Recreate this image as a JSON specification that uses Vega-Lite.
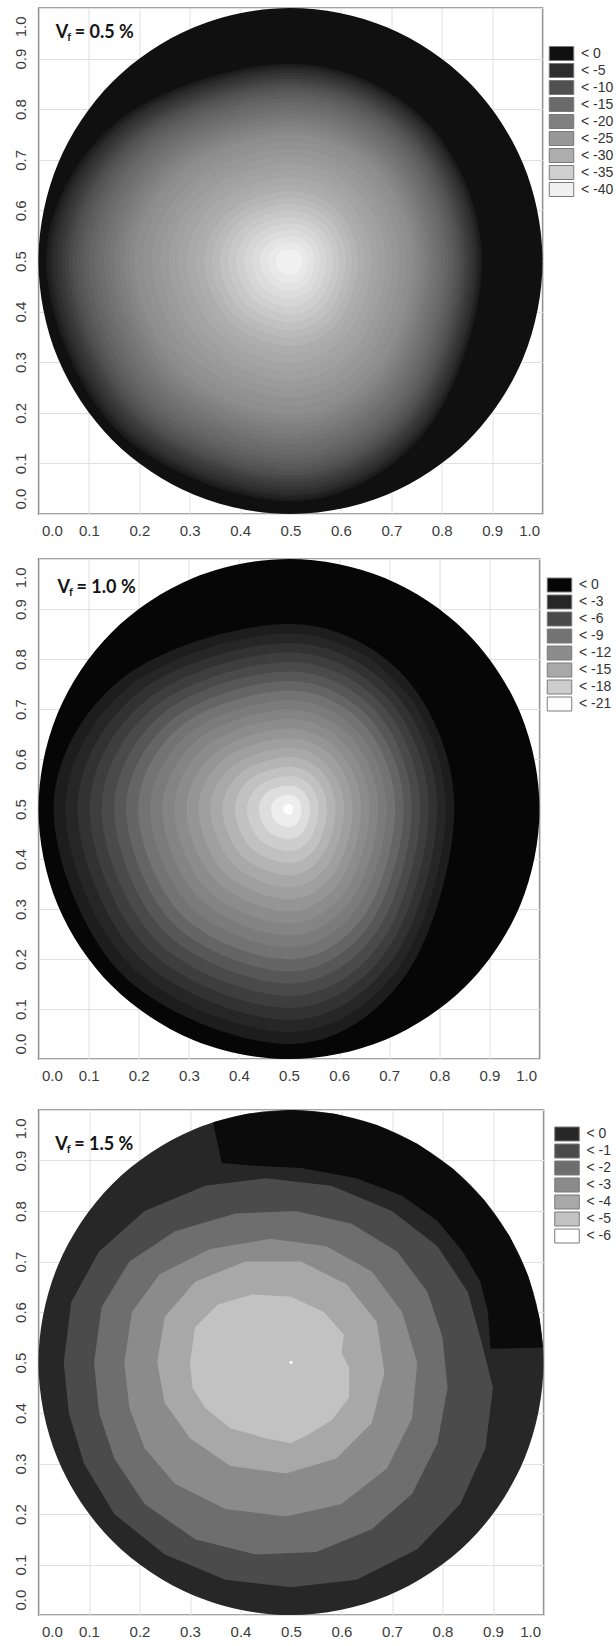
{
"$schema": "https://vega.github.io/schema/vega-lite/v6.json",
"background": "white",
"padding": {"left": 12.5, "top": 7, "right": 0, "bottom": 0},
"spacing": 19,
"config": {
 "view": {"stroke": "#474747", "strokeWidth": 1.4},
 "axis": {"grid": true, "gridColor": "#e0e0e0", "gridWidth": 1, "ticks": false, "tickSize": 0, "domain": false, "labelFont": "Liberation Sans", "labelFontSize": 15, "labelColor": "#3c3c3c"},
 "axisX": {"labelPadding": 9, "labelFlush": true, "labelFlushOffset": -3},
 "axisY": {"labelAngle": 270, "labelPadding": 10, "labelFlush": false},
 "legend": {"labelFont": "Liberation Sans", "labelFontSize": 14, "labelColor": "#333333", "symbolType": "M-1.75,-1H1.75V1H-1.75Z", "symbolSize": 196, "symbolStrokeColor": "#7a7a7a", "symbolStrokeWidth": 1, "rowPadding": -4.55, "labelOffset": 12}
},
"datasets": {
 "circ": [{"v":0,"x":1,"y":0.5},{"v":0,"x":0.9619,"y":0.6913},{"v":0,"x":0.8536,"y":0.8536},{"v":0,"x":0.6913,"y":0.9619},{"v":0,"x":0.5,"y":1},{"v":0,"x":0.3087,"y":0.9619},{"v":0,"x":0.1464,"y":0.8536},{"v":0,"x":0.0381,"y":0.6913},{"v":0,"x":0,"y":0.5},{"v":0,"x":0.0381,"y":0.3087},{"v":0,"x":0.1464,"y":0.1464},{"v":0,"x":0.3087,"y":0.0381},{"v":0,"x":0.5,"y":0},{"v":0,"x":0.6913,"y":0.0381},{"v":0,"x":0.8536,"y":0.1464},{"v":0,"x":0.9619,"y":0.3087}],
 "p1": [
 {"v":-2,"x":0.88,"y":0.5},{"v":-2,"x":0.769,"y":0.776},{"v":-2,"x":0.5,"y":0.89},{"v":-2,"x":0.157,"y":0.776},{"v":-2,"x":0.015,"y":0.5},{"v":-2,"x":0.157,"y":0.164},{"v":-2,"x":0.5,"y":0.025},{"v":-2,"x":0.769,"y":0.164},
 {"v":-3,"x":0.876,"y":0.5},{"v":-3,"x":0.766,"y":0.773},{"v":-3,"x":0.5,"y":0.886},{"v":-3,"x":0.161,"y":0.773},{"v":-3,"x":0.02,"y":0.5},{"v":-3,"x":0.161,"y":0.168},{"v":-3,"x":0.5,"y":0.03},{"v":-3,"x":0.766,"y":0.168},
 {"v":-4,"x":0.872,"y":0.5},{"v":-4,"x":0.763,"y":0.77},{"v":-4,"x":0.5,"y":0.882},{"v":-4,"x":0.164,"y":0.77},{"v":-4,"x":0.025,"y":0.5},{"v":-4,"x":0.164,"y":0.171},{"v":-4,"x":0.5,"y":0.035},{"v":-4,"x":0.763,"y":0.171},
 {"v":-5,"x":0.869,"y":0.5},{"v":-5,"x":0.761,"y":0.768},{"v":-5,"x":0.5,"y":0.878},{"v":-5,"x":0.167,"y":0.768},{"v":-5,"x":0.03,"y":0.5},{"v":-5,"x":0.167,"y":0.174},{"v":-5,"x":0.5,"y":0.039},{"v":-5,"x":0.761,"y":0.174},
 {"v":-6,"x":0.863,"y":0.5},{"v":-6,"x":0.756,"y":0.763},{"v":-6,"x":0.5,"y":0.872},{"v":-6,"x":0.173,"y":0.763},{"v":-6,"x":0.037,"y":0.5},{"v":-6,"x":0.173,"y":0.179},{"v":-6,"x":0.5,"y":0.047},{"v":-6,"x":0.756,"y":0.179},
 {"v":-7,"x":0.857,"y":0.5},{"v":-7,"x":0.752,"y":0.759},{"v":-7,"x":0.5,"y":0.866},{"v":-7,"x":0.178,"y":0.759},{"v":-7,"x":0.045,"y":0.5},{"v":-7,"x":0.178,"y":0.185},{"v":-7,"x":0.5,"y":0.054},{"v":-7,"x":0.752,"y":0.185},
 {"v":-8,"x":0.851,"y":0.5},{"v":-8,"x":0.748,"y":0.755},{"v":-8,"x":0.5,"y":0.86},{"v":-8,"x":0.184,"y":0.755},{"v":-8,"x":0.052,"y":0.5},{"v":-8,"x":0.184,"y":0.19},{"v":-8,"x":0.5,"y":0.062},{"v":-8,"x":0.748,"y":0.19},
 {"v":-9,"x":0.845,"y":0.5},{"v":-9,"x":0.744,"y":0.75},{"v":-9,"x":0.5,"y":0.854},{"v":-9,"x":0.189,"y":0.75},{"v":-9,"x":0.06,"y":0.5},{"v":-9,"x":0.189,"y":0.195},{"v":-9,"x":0.5,"y":0.069},{"v":-9,"x":0.744,"y":0.195},
 {"v":-10,"x":0.839,"y":0.5},{"v":-10,"x":0.74,"y":0.746},{"v":-10,"x":0.5,"y":0.848},{"v":-10,"x":0.194,"y":0.746},{"v":-10,"x":0.067,"y":0.5},{"v":-10,"x":0.194,"y":0.2},{"v":-10,"x":0.5,"y":0.076},{"v":-10,"x":0.74,"y":0.2},
 {"v":-11,"x":0.833,"y":0.5},{"v":-11,"x":0.736,"y":0.742},{"v":-11,"x":0.5,"y":0.842},{"v":-11,"x":0.2,"y":0.742},{"v":-11,"x":0.075,"y":0.5},{"v":-11,"x":0.2,"y":0.206},{"v":-11,"x":0.5,"y":0.084},{"v":-11,"x":0.736,"y":0.206},
 {"v":-12,"x":0.827,"y":0.5},{"v":-12,"x":0.731,"y":0.737},{"v":-12,"x":0.5,"y":0.836},{"v":-12,"x":0.205,"y":0.737},{"v":-12,"x":0.083,"y":0.5},{"v":-12,"x":0.205,"y":0.211},{"v":-12,"x":0.5,"y":0.091},{"v":-12,"x":0.731,"y":0.211},
 {"v":-13,"x":0.821,"y":0.5},{"v":-13,"x":0.727,"y":0.733},{"v":-13,"x":0.5,"y":0.83},{"v":-13,"x":0.21,"y":0.733},{"v":-13,"x":0.09,"y":0.5},{"v":-13,"x":0.21,"y":0.216},{"v":-13,"x":0.5,"y":0.099},{"v":-13,"x":0.727,"y":0.216},
 {"v":-14,"x":0.813,"y":0.5},{"v":-14,"x":0.722,"y":0.727},{"v":-14,"x":0.5,"y":0.822},{"v":-14,"x":0.217,"y":0.727},{"v":-14,"x":0.1,"y":0.5},{"v":-14,"x":0.217,"y":0.223},{"v":-14,"x":0.5,"y":0.108},{"v":-14,"x":0.722,"y":0.223},
 {"v":-15,"x":0.806,"y":0.5},{"v":-15,"x":0.716,"y":0.722},{"v":-15,"x":0.5,"y":0.814},{"v":-15,"x":0.224,"y":0.722},{"v":-15,"x":0.11,"y":0.5},{"v":-15,"x":0.224,"y":0.23},{"v":-15,"x":0.5,"y":0.118},{"v":-15,"x":0.716,"y":0.23},
 {"v":-16,"x":0.798,"y":0.5},{"v":-16,"x":0.711,"y":0.716},{"v":-16,"x":0.5,"y":0.806},{"v":-16,"x":0.231,"y":0.716},{"v":-16,"x":0.12,"y":0.5},{"v":-16,"x":0.231,"y":0.237},{"v":-16,"x":0.5,"y":0.128},{"v":-16,"x":0.711,"y":0.237},
 {"v":-17,"x":0.79,"y":0.5},{"v":-17,"x":0.705,"y":0.71},{"v":-17,"x":0.5,"y":0.798},{"v":-17,"x":0.238,"y":0.71},{"v":-17,"x":0.13,"y":0.5},{"v":-17,"x":0.238,"y":0.244},{"v":-17,"x":0.5,"y":0.138},{"v":-17,"x":0.705,"y":0.244},
 {"v":-18,"x":0.782,"y":0.5},{"v":-18,"x":0.7,"y":0.705},{"v":-18,"x":0.5,"y":0.79},{"v":-18,"x":0.245,"y":0.705},{"v":-18,"x":0.14,"y":0.5},{"v":-18,"x":0.245,"y":0.251},{"v":-18,"x":0.5,"y":0.147},{"v":-18,"x":0.7,"y":0.251},
 {"v":-19,"x":0.774,"y":0.5},{"v":-19,"x":0.694,"y":0.699},{"v":-19,"x":0.5,"y":0.782},{"v":-19,"x":0.252,"y":0.699},{"v":-19,"x":0.15,"y":0.5},{"v":-19,"x":0.252,"y":0.258},{"v":-19,"x":0.5,"y":0.157},{"v":-19,"x":0.694,"y":0.258},
 {"v":-20,"x":0.767,"y":0.5},{"v":-20,"x":0.689,"y":0.694},{"v":-20,"x":0.5,"y":0.774},{"v":-20,"x":0.26,"y":0.694},{"v":-20,"x":0.16,"y":0.5},{"v":-20,"x":0.26,"y":0.264},{"v":-20,"x":0.5,"y":0.167},{"v":-20,"x":0.689,"y":0.264},
 {"v":-21,"x":0.759,"y":0.5},{"v":-21,"x":0.683,"y":0.688},{"v":-21,"x":0.5,"y":0.766},{"v":-21,"x":0.267,"y":0.688},{"v":-21,"x":0.17,"y":0.5},{"v":-21,"x":0.267,"y":0.271},{"v":-21,"x":0.5,"y":0.177},{"v":-21,"x":0.683,"y":0.271},
 {"v":-22,"x":0.751,"y":0.5},{"v":-22,"x":0.678,"y":0.682},{"v":-22,"x":0.5,"y":0.758},{"v":-22,"x":0.274,"y":0.682},{"v":-22,"x":0.18,"y":0.5},{"v":-22,"x":0.274,"y":0.278},{"v":-22,"x":0.5,"y":0.186},{"v":-22,"x":0.678,"y":0.278},
 {"v":-23,"x":0.743,"y":0.5},{"v":-23,"x":0.672,"y":0.677},{"v":-23,"x":0.5,"y":0.75},{"v":-23,"x":0.281,"y":0.677},{"v":-23,"x":0.19,"y":0.5},{"v":-23,"x":0.281,"y":0.285},{"v":-23,"x":0.5,"y":0.196},{"v":-23,"x":0.672,"y":0.285},
 {"v":-24,"x":0.73,"y":0.5},{"v":-24,"x":0.662,"y":0.667},{"v":-24,"x":0.5,"y":0.736},{"v":-24,"x":0.293,"y":0.667},{"v":-24,"x":0.207,"y":0.5},{"v":-24,"x":0.293,"y":0.297},{"v":-24,"x":0.5,"y":0.213},{"v":-24,"x":0.662,"y":0.297},
 {"v":-25,"x":0.716,"y":0.5},{"v":-25,"x":0.653,"y":0.657},{"v":-25,"x":0.5,"y":0.722},{"v":-25,"x":0.305,"y":0.657},{"v":-25,"x":0.225,"y":0.5},{"v":-25,"x":0.305,"y":0.309},{"v":-25,"x":0.5,"y":0.23},{"v":-25,"x":0.653,"y":0.309},
 {"v":-26,"x":0.702,"y":0.5},{"v":-26,"x":0.643,"y":0.647},{"v":-26,"x":0.5,"y":0.708},{"v":-26,"x":0.318,"y":0.647},{"v":-26,"x":0.242,"y":0.5},{"v":-26,"x":0.318,"y":0.321},{"v":-26,"x":0.5,"y":0.247},{"v":-26,"x":0.643,"y":0.321},
 {"v":-27,"x":0.689,"y":0.5},{"v":-27,"x":0.633,"y":0.637},{"v":-27,"x":0.5,"y":0.693},{"v":-27,"x":0.33,"y":0.637},{"v":-27,"x":0.259,"y":0.5},{"v":-27,"x":0.33,"y":0.333},{"v":-27,"x":0.5,"y":0.264},{"v":-27,"x":0.633,"y":0.333},
 {"v":-28,"x":0.675,"y":0.5},{"v":-28,"x":0.624,"y":0.627},{"v":-28,"x":0.5,"y":0.679},{"v":-28,"x":0.342,"y":0.627},{"v":-28,"x":0.277,"y":0.5},{"v":-28,"x":0.342,"y":0.346},{"v":-28,"x":0.5,"y":0.282},{"v":-28,"x":0.624,"y":0.346},
 {"v":-29,"x":0.661,"y":0.5},{"v":-29,"x":0.614,"y":0.617},{"v":-29,"x":0.5,"y":0.665},{"v":-29,"x":0.355,"y":0.617},{"v":-29,"x":0.294,"y":0.5},{"v":-29,"x":0.355,"y":0.358},{"v":-29,"x":0.5,"y":0.299},{"v":-29,"x":0.614,"y":0.358},
 {"v":-30,"x":0.647,"y":0.5},{"v":-30,"x":0.604,"y":0.607},{"v":-30,"x":0.5,"y":0.651},{"v":-30,"x":0.367,"y":0.607},{"v":-30,"x":0.312,"y":0.5},{"v":-30,"x":0.367,"y":0.37},{"v":-30,"x":0.5,"y":0.316},{"v":-30,"x":0.604,"y":0.37},
 {"v":-31,"x":0.634,"y":0.5},{"v":-31,"x":0.595,"y":0.598},{"v":-31,"x":0.5,"y":0.638},{"v":-31,"x":0.379,"y":0.598},{"v":-31,"x":0.329,"y":0.5},{"v":-31,"x":0.379,"y":0.381},{"v":-31,"x":0.5,"y":0.332},{"v":-31,"x":0.595,"y":0.381},
 {"v":-32,"x":0.622,"y":0.5},{"v":-32,"x":0.586,"y":0.589},{"v":-32,"x":0.5,"y":0.625},{"v":-32,"x":0.39,"y":0.589},{"v":-32,"x":0.344,"y":0.5},{"v":-32,"x":0.39,"y":0.392},{"v":-32,"x":0.5,"y":0.348},{"v":-32,"x":0.586,"y":0.392},
 {"v":-33,"x":0.61,"y":0.5},{"v":-33,"x":0.578,"y":0.58},{"v":-33,"x":0.5,"y":0.613},{"v":-33,"x":0.401,"y":0.58},{"v":-33,"x":0.36,"y":0.5},{"v":-33,"x":0.401,"y":0.403},{"v":-33,"x":0.5,"y":0.363},{"v":-33,"x":0.578,"y":0.403},
 {"v":-34,"x":0.597,"y":0.5},{"v":-34,"x":0.569,"y":0.571},{"v":-34,"x":0.5,"y":0.6},{"v":-34,"x":0.412,"y":0.571},{"v":-34,"x":0.376,"y":0.5},{"v":-34,"x":0.412,"y":0.414},{"v":-34,"x":0.5,"y":0.379},{"v":-34,"x":0.569,"y":0.414},
 {"v":-35,"x":0.585,"y":0.5},{"v":-35,"x":0.56,"y":0.562},{"v":-35,"x":0.5,"y":0.587},{"v":-35,"x":0.424,"y":0.562},{"v":-35,"x":0.392,"y":0.5},{"v":-35,"x":0.424,"y":0.425},{"v":-35,"x":0.5,"y":0.394},{"v":-35,"x":0.56,"y":0.425},
 {"v":-36,"x":0.572,"y":0.5},{"v":-36,"x":0.551,"y":0.553},{"v":-36,"x":0.5,"y":0.574},{"v":-36,"x":0.435,"y":0.553},{"v":-36,"x":0.408,"y":0.5},{"v":-36,"x":0.435,"y":0.436},{"v":-36,"x":0.5,"y":0.41},{"v":-36,"x":0.551,"y":0.436},
 {"v":-37,"x":0.56,"y":0.5},{"v":-37,"x":0.542,"y":0.544},{"v":-37,"x":0.5,"y":0.562},{"v":-37,"x":0.446,"y":0.544},{"v":-37,"x":0.423,"y":0.5},{"v":-37,"x":0.446,"y":0.447},{"v":-37,"x":0.5,"y":0.425},{"v":-37,"x":0.542,"y":0.447},
 {"v":-38,"x":0.548,"y":0.5},{"v":-38,"x":0.534,"y":0.535},{"v":-38,"x":0.5,"y":0.549},{"v":-38,"x":0.457,"y":0.535},{"v":-38,"x":0.439,"y":0.5},{"v":-38,"x":0.457,"y":0.458},{"v":-38,"x":0.5,"y":0.441},{"v":-38,"x":0.534,"y":0.458},
 {"v":-39,"x":0.535,"y":0.5},{"v":-39,"x":0.525,"y":0.526},{"v":-39,"x":0.5,"y":0.536},{"v":-39,"x":0.468,"y":0.526},{"v":-39,"x":0.455,"y":0.5},{"v":-39,"x":0.468,"y":0.469},{"v":-39,"x":0.5,"y":0.456},{"v":-39,"x":0.525,"y":0.469},
 {"v":-40,"x":0.523,"y":0.5},{"v":-40,"x":0.516,"y":0.517},{"v":-40,"x":0.5,"y":0.523},{"v":-40,"x":0.479,"y":0.517},{"v":-40,"x":0.471,"y":0.5},{"v":-40,"x":0.479,"y":0.48},{"v":-40,"x":0.5,"y":0.472},{"v":-40,"x":0.516,"y":0.48}
 ],
 "p2": [
 {"v":-2,"x":0.83,"y":0.5},{"v":-2,"x":0.733,"y":0.762},{"v":-2,"x":0.5,"y":0.87},{"v":-2,"x":0.168,"y":0.762},{"v":-2,"x":0.03,"y":0.5},{"v":-2,"x":0.168,"y":0.168},{"v":-2,"x":0.5,"y":0.03},{"v":-2,"x":0.733,"y":0.168},
 {"v":-3,"x":0.813,"y":0.5},{"v":-3,"x":0.721,"y":0.748},{"v":-3,"x":0.5,"y":0.851},{"v":-3,"x":0.185,"y":0.748},{"v":-3,"x":0.054,"y":0.5},{"v":-3,"x":0.185,"y":0.185},{"v":-3,"x":0.5,"y":0.054},{"v":-3,"x":0.721,"y":0.185},
 {"v":-4,"x":0.796,"y":0.5},{"v":-4,"x":0.709,"y":0.735},{"v":-4,"x":0.5,"y":0.832},{"v":-4,"x":0.202,"y":0.735},{"v":-4,"x":0.078,"y":0.5},{"v":-4,"x":0.202,"y":0.202},{"v":-4,"x":0.5,"y":0.078},{"v":-4,"x":0.709,"y":0.202},
 {"v":-5,"x":0.779,"y":0.5},{"v":-5,"x":0.697,"y":0.721},{"v":-5,"x":0.5,"y":0.813},{"v":-5,"x":0.219,"y":0.721},{"v":-5,"x":0.102,"y":0.5},{"v":-5,"x":0.219,"y":0.219},{"v":-5,"x":0.5,"y":0.102},{"v":-5,"x":0.697,"y":0.219},
 {"v":-6,"x":0.762,"y":0.5},{"v":-6,"x":0.686,"y":0.708},{"v":-6,"x":0.5,"y":0.794},{"v":-6,"x":0.236,"y":0.708},{"v":-6,"x":0.126,"y":0.5},{"v":-6,"x":0.236,"y":0.236},{"v":-6,"x":0.5,"y":0.126},{"v":-6,"x":0.686,"y":0.236},
 {"v":-7,"x":0.745,"y":0.5},{"v":-7,"x":0.674,"y":0.695},{"v":-7,"x":0.5,"y":0.775},{"v":-7,"x":0.253,"y":0.695},{"v":-7,"x":0.151,"y":0.5},{"v":-7,"x":0.253,"y":0.253},{"v":-7,"x":0.5,"y":0.151},{"v":-7,"x":0.674,"y":0.253},
 {"v":-8,"x":0.729,"y":0.5},{"v":-8,"x":0.662,"y":0.681},{"v":-8,"x":0.5,"y":0.756},{"v":-8,"x":0.27,"y":0.681},{"v":-8,"x":0.175,"y":0.5},{"v":-8,"x":0.27,"y":0.27},{"v":-8,"x":0.5,"y":0.175},{"v":-8,"x":0.662,"y":0.27},
 {"v":-9,"x":0.712,"y":0.5},{"v":-9,"x":0.65,"y":0.668},{"v":-9,"x":0.5,"y":0.737},{"v":-9,"x":0.287,"y":0.668},{"v":-9,"x":0.199,"y":0.5},{"v":-9,"x":0.287,"y":0.287},{"v":-9,"x":0.5,"y":0.199},{"v":-9,"x":0.65,"y":0.287},
 {"v":-10,"x":0.695,"y":0.5},{"v":-10,"x":0.638,"y":0.654},{"v":-10,"x":0.5,"y":0.718},{"v":-10,"x":0.304,"y":0.654},{"v":-10,"x":0.223,"y":0.5},{"v":-10,"x":0.304,"y":0.304},{"v":-10,"x":0.5,"y":0.223},{"v":-10,"x":0.638,"y":0.304},
 {"v":-11,"x":0.678,"y":0.5},{"v":-11,"x":0.626,"y":0.641},{"v":-11,"x":0.5,"y":0.699},{"v":-11,"x":0.321,"y":0.641},{"v":-11,"x":0.247,"y":0.5},{"v":-11,"x":0.321,"y":0.321},{"v":-11,"x":0.5,"y":0.247},{"v":-11,"x":0.626,"y":0.321},
 {"v":-12,"x":0.661,"y":0.5},{"v":-12,"x":0.614,"y":0.628},{"v":-12,"x":0.5,"y":0.68},{"v":-12,"x":0.338,"y":0.628},{"v":-12,"x":0.271,"y":0.5},{"v":-12,"x":0.338,"y":0.338},{"v":-12,"x":0.5,"y":0.271},{"v":-12,"x":0.614,"y":0.338},
 {"v":-13,"x":0.644,"y":0.5},{"v":-13,"x":0.602,"y":0.614},{"v":-13,"x":0.5,"y":0.661},{"v":-13,"x":0.355,"y":0.614},{"v":-13,"x":0.295,"y":0.5},{"v":-13,"x":0.355,"y":0.355},{"v":-13,"x":0.5,"y":0.295},{"v":-13,"x":0.602,"y":0.355},
 {"v":-14,"x":0.627,"y":0.5},{"v":-14,"x":0.59,"y":0.601},{"v":-14,"x":0.5,"y":0.642},{"v":-14,"x":0.372,"y":0.601},{"v":-14,"x":0.319,"y":0.5},{"v":-14,"x":0.372,"y":0.372},{"v":-14,"x":0.5,"y":0.319},{"v":-14,"x":0.59,"y":0.372},
 {"v":-15,"x":0.61,"y":0.5},{"v":-15,"x":0.578,"y":0.587},{"v":-15,"x":0.5,"y":0.623},{"v":-15,"x":0.389,"y":0.587},{"v":-15,"x":0.343,"y":0.5},{"v":-15,"x":0.389,"y":0.389},{"v":-15,"x":0.5,"y":0.343},{"v":-15,"x":0.578,"y":0.389},
 {"v":-16,"x":0.593,"y":0.5},{"v":-16,"x":0.566,"y":0.574},{"v":-16,"x":0.5,"y":0.604},{"v":-16,"x":0.406,"y":0.574},{"v":-16,"x":0.367,"y":0.5},{"v":-16,"x":0.406,"y":0.406},{"v":-16,"x":0.5,"y":0.367},{"v":-16,"x":0.566,"y":0.406},
 {"v":-17,"x":0.576,"y":0.5},{"v":-17,"x":0.554,"y":0.56},{"v":-17,"x":0.5,"y":0.585},{"v":-17,"x":0.423,"y":0.56},{"v":-17,"x":0.392,"y":0.5},{"v":-17,"x":0.423,"y":0.423},{"v":-17,"x":0.5,"y":0.392},{"v":-17,"x":0.554,"y":0.423},
 {"v":-18,"x":0.559,"y":0.5},{"v":-18,"x":0.542,"y":0.547},{"v":-18,"x":0.5,"y":0.566},{"v":-18,"x":0.44,"y":0.547},{"v":-18,"x":0.416,"y":0.5},{"v":-18,"x":0.44,"y":0.44},{"v":-18,"x":0.5,"y":0.416},{"v":-18,"x":0.542,"y":0.44},
 {"v":-19,"x":0.542,"y":0.5},{"v":-19,"x":0.53,"y":0.534},{"v":-19,"x":0.5,"y":0.547},{"v":-19,"x":0.457,"y":0.534},{"v":-19,"x":0.44,"y":0.5},{"v":-19,"x":0.457,"y":0.457},{"v":-19,"x":0.5,"y":0.44},{"v":-19,"x":0.53,"y":0.457},
 {"v":-20,"x":0.525,"y":0.5},{"v":-20,"x":0.518,"y":0.52},{"v":-20,"x":0.5,"y":0.529},{"v":-20,"x":0.474,"y":0.52},{"v":-20,"x":0.464,"y":0.5},{"v":-20,"x":0.474,"y":0.474},{"v":-20,"x":0.5,"y":0.464},{"v":-20,"x":0.518,"y":0.474},
 {"v":-21,"x":0.508,"y":0.5},{"v":-21,"x":0.506,"y":0.507},{"v":-21,"x":0.5,"y":0.51},{"v":-21,"x":0.492,"y":0.507},{"v":-21,"x":0.488,"y":0.5},{"v":-21,"x":0.492,"y":0.492},{"v":-21,"x":0.5,"y":0.488},{"v":-21,"x":0.506,"y":0.492}
 ],
 "p3": [
 {"v":1,"x":0.3455,"y":0.9755},{"v":1,"x":0.4132,"y":0.9924},{"v":1,"x":0.5,"y":1},{"v":1,"x":0.5868,"y":0.9924},{"v":1,"x":0.671,"y":0.9698},{"v":1,"x":0.75,"y":0.933},{"v":1,"x":0.8214,"y":0.883},{"v":1,"x":0.883,"y":0.8214},{"v":1,"x":0.933,"y":0.75},{"v":1,"x":0.9698,"y":0.671},{"v":1,"x":0.9924,"y":0.5868},{"v":1,"x":0.9991,"y":0.5297},{"v":1,"x":0.895,"y":0.527},{"v":1,"x":0.89,"y":0.6},{"v":1,"x":0.875,"y":0.66},{"v":1,"x":0.84,"y":0.72},{"v":1,"x":0.79,"y":0.78},{"v":1,"x":0.72,"y":0.83},{"v":1,"x":0.63,"y":0.865},{"v":1,"x":0.52,"y":0.885},{"v":1,"x":0.42,"y":0.89},{"v":1,"x":0.363,"y":0.895},
 {"v":-1,"x":0.05,"y":0.5},{"v":-1,"x":0.065,"y":0.62},{"v":-1,"x":0.12,"y":0.72},{"v":-1,"x":0.21,"y":0.8},{"v":-1,"x":0.33,"y":0.85},{"v":-1,"x":0.45,"y":0.865},{"v":-1,"x":0.58,"y":0.85},{"v":-1,"x":0.7,"y":0.8},{"v":-1,"x":0.79,"y":0.73},{"v":-1,"x":0.85,"y":0.64},{"v":-1,"x":0.88,"y":0.53},{"v":-1,"x":0.9,"y":0.45},{"v":-1,"x":0.885,"y":0.33},{"v":-1,"x":0.835,"y":0.22},{"v":-1,"x":0.75,"y":0.13},{"v":-1,"x":0.63,"y":0.07},{"v":-1,"x":0.5,"y":0.055},{"v":-1,"x":0.37,"y":0.07},{"v":-1,"x":0.25,"y":0.12},{"v":-1,"x":0.15,"y":0.2},{"v":-1,"x":0.09,"y":0.3},{"v":-1,"x":0.06,"y":0.4},
 {"v":-2,"x":0.11,"y":0.5},{"v":-2,"x":0.125,"y":0.61},{"v":-2,"x":0.18,"y":0.7},{"v":-2,"x":0.27,"y":0.76},{"v":-2,"x":0.39,"y":0.795},{"v":-2,"x":0.51,"y":0.8},{"v":-2,"x":0.62,"y":0.775},{"v":-2,"x":0.71,"y":0.72},{"v":-2,"x":0.77,"y":0.64},{"v":-2,"x":0.8,"y":0.55},{"v":-2,"x":0.81,"y":0.45},{"v":-2,"x":0.79,"y":0.34},{"v":-2,"x":0.74,"y":0.24},{"v":-2,"x":0.66,"y":0.17},{"v":-2,"x":0.55,"y":0.125},{"v":-2,"x":0.43,"y":0.12},{"v":-2,"x":0.31,"y":0.15},{"v":-2,"x":0.21,"y":0.22},{"v":-2,"x":0.15,"y":0.31},{"v":-2,"x":0.12,"y":0.4},
 {"v":-3,"x":0.17,"y":0.5},{"v":-3,"x":0.185,"y":0.6},{"v":-3,"x":0.24,"y":0.675},{"v":-3,"x":0.34,"y":0.725},{"v":-3,"x":0.46,"y":0.745},{"v":-3,"x":0.57,"y":0.73},{"v":-3,"x":0.66,"y":0.68},{"v":-3,"x":0.72,"y":0.6},{"v":-3,"x":0.75,"y":0.5},{"v":-3,"x":0.74,"y":0.39},{"v":-3,"x":0.69,"y":0.29},{"v":-3,"x":0.6,"y":0.22},{"v":-3,"x":0.49,"y":0.195},{"v":-3,"x":0.37,"y":0.21},{"v":-3,"x":0.27,"y":0.26},{"v":-3,"x":0.21,"y":0.33},{"v":-3,"x":0.18,"y":0.41},
 {"v":-4,"x":0.235,"y":0.5},{"v":-4,"x":0.25,"y":0.59},{"v":-4,"x":0.31,"y":0.66},{"v":-4,"x":0.41,"y":0.7},{"v":-4,"x":0.52,"y":0.7},{"v":-4,"x":0.61,"y":0.655},{"v":-4,"x":0.67,"y":0.58},{"v":-4,"x":0.685,"y":0.48},{"v":-4,"x":0.66,"y":0.38},{"v":-4,"x":0.59,"y":0.31},{"v":-4,"x":0.49,"y":0.28},{"v":-4,"x":0.38,"y":0.295},{"v":-4,"x":0.3,"y":0.35},{"v":-4,"x":0.25,"y":0.42},
 {"v":-5,"x":0.3,"y":0.5},{"v":-5,"x":0.31,"y":0.57},{"v":-5,"x":0.355,"y":0.615},{"v":-5,"x":0.425,"y":0.635},{"v":-5,"x":0.5,"y":0.63},{"v":-5,"x":0.565,"y":0.6},{"v":-5,"x":0.605,"y":0.555},{"v":-5,"x":0.6,"y":0.52},{"v":-5,"x":0.615,"y":0.49},{"v":-5,"x":0.615,"y":0.43},{"v":-5,"x":0.58,"y":0.385},{"v":-5,"x":0.53,"y":0.355},{"v":-5,"x":0.5,"y":0.34},{"v":-5,"x":0.45,"y":0.35},{"v":-5,"x":0.38,"y":0.37},{"v":-5,"x":0.33,"y":0.41},{"v":-5,"x":0.305,"y":0.45},
 {"v":-6,"x":0.504,"y":0.5},{"v":-6,"x":0.5,"y":0.504},{"v":-6,"x":0.496,"y":0.5},{"v":-6,"x":0.5,"y":0.496}
 ]
},
"resolve": {"scale": {"fill": "independent"}, "legend": {"fill": "independent"}},
"vconcat": [
 {
  "width": 504, "height": 506,
  "layer": [
   {"data": {"name": "circ"}, "mark": {"type": "line", "interpolate": "cardinal-closed", "filled": true},
    "encoding": {
     "x": {"field": "x", "type": "quantitative", "scale": {"domain": [0,1], "nice": false, "zero": false}, "axis": {"values": [0,0.1,0.2,0.3,0.4,0.5,0.6,0.7,0.8,0.9,1], "format": ".1f", "title": null}},
     "y": {"field": "y", "type": "quantitative", "scale": {"domain": [0,1], "nice": false, "zero": false}, "axis": {"values": [0,0.1,0.2,0.3,0.4,0.5,0.6,0.7,0.8,0.9,1], "format": ".1f", "title": null, "labelAlign": {"expr": "datum.value == 1 ? 'right' : (datum.value == 0 ? 'left' : 'center')"}, "labelOffset": {"expr": "datum.value == 1 ? 8 : (datum.value == 0 ? -5 : 0)"}}},
     "order": {"value": null},
     "detail": {"field": "v"},
     "fill": {"field": "v", "type": "quantitative", "scale": {"domain": [0,-5,-10,-15,-20,-25,-30,-35,-40], "range": ["#101010","#2e2e2e","#505050","#6a6a6a","#808080","#979797","#adadad","#cfcfcf","#f0f0f0"]},
      "legend": {"type": "symbol", "values": [0,-5,-10,-15,-20,-25,-30,-35,-40], "labelExpr": "'< ' + datum.value", "title": null, "orient": "none", "legendX": 515.5, "legendY": 38}}
    }},
   {"data": {"name": "p1"}, "mark": {"type": "line", "interpolate": "cardinal-closed", "filled": true},
    "encoding": {
     "x": {"field": "x", "type": "quantitative", "scale": {"domain": [0,1], "nice": false, "zero": false}, "title": null},
     "y": {"field": "y", "type": "quantitative", "scale": {"domain": [0,1], "nice": false, "zero": false}, "title": null},
     "order": {"value": null},
     "detail": {"field": "v"},
     "fill": {"field": "v", "type": "quantitative", "scale": {"domain": [0,-5,-10,-15,-20,-25,-30,-35,-40], "range": ["#101010","#2e2e2e","#505050","#6a6a6a","#808080","#979797","#adadad","#cfcfcf","#f0f0f0"]}}
    }},
   {"data": {"values": [{"t": "V"}]}, "mark": {"type": "text", "font": "Lato", "fontWeight": "bold", "fontSize": 18, "align": "left", "baseline": "alphabetic", "fill": "#141414"},
    "encoding": {"x": {"datum": 0.034, "type": "quantitative", "scale": {"domain": [0,1], "nice": false, "zero": false}}, "y": {"datum": 0.941, "type": "quantitative", "scale": {"domain": [0,1], "nice": false, "zero": false}}, "text": {"field": "t"}}},
   {"data": {"values": [{"t": "f"}]}, "mark": {"type": "text", "font": "Lato", "fontWeight": "bold", "fontSize": 11, "align": "left", "baseline": "alphabetic", "fill": "#141414", "dx": 11.5, "dy": 3},
    "encoding": {"x": {"datum": 0.034, "type": "quantitative", "scale": {"domain": [0,1], "nice": false, "zero": false}}, "y": {"datum": 0.941, "type": "quantitative", "scale": {"domain": [0,1], "nice": false, "zero": false}}, "text": {"field": "t"}}},
   {"data": {"values": [{"t": "= 0.5 %"}]}, "mark": {"type": "text", "font": "Lato", "fontWeight": "bold", "fontSize": 18, "align": "left", "baseline": "alphabetic", "fill": "#141414", "dx": 19},
    "encoding": {"x": {"datum": 0.034, "type": "quantitative", "scale": {"domain": [0,1], "nice": false, "zero": false}}, "y": {"datum": 0.941, "type": "quantitative", "scale": {"domain": [0,1], "nice": false, "zero": false}}, "text": {"field": "t"}}}
  ]
 },
 {
  "spacing": 25,
  "resolve": {"scale": {"fill": "independent"}, "legend": {"fill": "independent"}},
  "vconcat": [
 {
  "width": 501, "height": 500,
  "layer": [
   {"data": {"name": "circ"}, "mark": {"type": "line", "interpolate": "cardinal-closed", "filled": true},
    "encoding": {
     "x": {"field": "x", "type": "quantitative", "scale": {"domain": [0,1], "nice": false, "zero": false}, "axis": {"values": [0,0.1,0.2,0.3,0.4,0.5,0.6,0.7,0.8,0.9,1], "format": ".1f", "title": null}},
     "y": {"field": "y", "type": "quantitative", "scale": {"domain": [0,1], "nice": false, "zero": false}, "axis": {"values": [0,0.1,0.2,0.3,0.4,0.5,0.6,0.7,0.8,0.9,1], "format": ".1f", "title": null, "labelAlign": {"expr": "datum.value == 1 ? 'right' : (datum.value == 0 ? 'left' : 'center')"}, "labelOffset": {"expr": "datum.value == 1 ? 8 : (datum.value == 0 ? -5 : 0)"}}},
     "order": {"value": null},
     "detail": {"field": "v"},
     "fill": {"field": "v", "type": "quantitative", "scale": {"domain": [0,-3,-6,-9,-12,-15,-18,-21], "range": ["#060606","#262626","#4a4a4a","#737373","#8c8c8c","#a8a8a8","#cdcdcd","#fdfdfd"]},
      "legend": {"type": "symbol", "values": [0,-3,-6,-9,-12,-15,-18,-21], "labelExpr": "'< ' + datum.value", "title": null, "orient": "none", "legendX": 513.5, "legendY": 18.5}}
    }},
   {"data": {"name": "p2"}, "mark": {"type": "line", "interpolate": "cardinal-closed", "filled": true},
    "encoding": {
     "x": {"field": "x", "type": "quantitative", "scale": {"domain": [0,1], "nice": false, "zero": false}, "title": null},
     "y": {"field": "y", "type": "quantitative", "scale": {"domain": [0,1], "nice": false, "zero": false}, "title": null},
     "order": {"value": null},
     "detail": {"field": "v"},
     "fill": {"field": "v", "type": "quantitative", "scale": {"domain": [0,-3,-6,-9,-12,-15,-18,-21], "range": ["#060606","#262626","#4a4a4a","#737373","#8c8c8c","#a8a8a8","#cdcdcd","#fdfdfd"]}}
    }},
   {"data": {"values": [{"t": "V"}]}, "mark": {"type": "text", "font": "Lato", "fontWeight": "bold", "fontSize": 18, "align": "left", "baseline": "alphabetic", "fill": "#141414"},
    "encoding": {"x": {"datum": 0.038, "type": "quantitative", "scale": {"domain": [0,1], "nice": false, "zero": false}}, "y": {"datum": 0.933, "type": "quantitative", "scale": {"domain": [0,1], "nice": false, "zero": false}}, "text": {"field": "t"}}},
   {"data": {"values": [{"t": "f"}]}, "mark": {"type": "text", "font": "Lato", "fontWeight": "bold", "fontSize": 11, "align": "left", "baseline": "alphabetic", "fill": "#141414", "dx": 11.5, "dy": 3},
    "encoding": {"x": {"datum": 0.038, "type": "quantitative", "scale": {"domain": [0,1], "nice": false, "zero": false}}, "y": {"datum": 0.933, "type": "quantitative", "scale": {"domain": [0,1], "nice": false, "zero": false}}, "text": {"field": "t"}}},
   {"data": {"values": [{"t": "= 1.0 %"}]}, "mark": {"type": "text", "font": "Lato", "fontWeight": "bold", "fontSize": 18, "align": "left", "baseline": "alphabetic", "fill": "#141414", "dx": 19},
    "encoding": {"x": {"datum": 0.038, "type": "quantitative", "scale": {"domain": [0,1], "nice": false, "zero": false}}, "y": {"datum": 0.933, "type": "quantitative", "scale": {"domain": [0,1], "nice": false, "zero": false}}, "text": {"field": "t"}}}
  ]
 },
 {
  "width": 505, "height": 505,
  "layer": [
   {"data": {"name": "circ"}, "mark": {"type": "line", "interpolate": "cardinal-closed", "filled": true},
    "encoding": {
     "x": {"field": "x", "type": "quantitative", "scale": {"domain": [0,1], "nice": false, "zero": false}, "axis": {"values": [0,0.1,0.2,0.3,0.4,0.5,0.6,0.7,0.8,0.9,1], "format": ".1f", "title": null}},
     "y": {"field": "y", "type": "quantitative", "scale": {"domain": [0,1], "nice": false, "zero": false}, "axis": {"values": [0,0.1,0.2,0.3,0.4,0.5,0.6,0.7,0.8,0.9,1], "format": ".1f", "title": null, "labelAlign": {"expr": "datum.value == 1 ? 'right' : (datum.value == 0 ? 'left' : 'center')"}, "labelOffset": {"expr": "datum.value == 1 ? 8 : (datum.value == 0 ? -5 : 0)"}}},
     "order": {"value": null},
     "detail": {"field": "v"},
     "fill": {"field": "v", "type": "quantitative", "scale": {"domain": [1,0,-1,-2,-3,-4,-5,-6], "range": ["#0b0b0b","#272727","#4b4b4b","#6e6e6e","#8b8b8b","#a8a8a8","#c2c2c2","#ffffff"]},
      "legend": {"type": "symbol", "values": [0,-1,-2,-3,-4,-5,-6], "labelExpr": "'< ' + datum.value", "title": null, "orient": "none", "legendX": 521, "legendY": 16.5}}
    }},
   {"data": {"name": "p3"}, "mark": {"type": "line", "interpolate": "linear-closed", "filled": true},
    "encoding": {
     "x": {"field": "x", "type": "quantitative", "scale": {"domain": [0,1], "nice": false, "zero": false}, "title": null},
     "y": {"field": "y", "type": "quantitative", "scale": {"domain": [0,1], "nice": false, "zero": false}, "title": null},
     "order": {"value": null},
     "detail": {"field": "v"},
     "fill": {"field": "v", "type": "quantitative", "scale": {"domain": [1,0,-1,-2,-3,-4,-5,-6], "range": ["#0b0b0b","#272727","#4b4b4b","#6e6e6e","#8b8b8b","#a8a8a8","#c2c2c2","#ffffff"]}}
    }},
   {"data": {"values": [{"t": "V"}]}, "mark": {"type": "text", "font": "Lato", "fontWeight": "bold", "fontSize": 18, "align": "left", "baseline": "alphabetic", "fill": "#141414"},
    "encoding": {"x": {"datum": 0.033, "type": "quantitative", "scale": {"domain": [0,1], "nice": false, "zero": false}}, "y": {"datum": 0.92, "type": "quantitative", "scale": {"domain": [0,1], "nice": false, "zero": false}}, "text": {"field": "t"}}},
   {"data": {"values": [{"t": "f"}]}, "mark": {"type": "text", "font": "Lato", "fontWeight": "bold", "fontSize": 11, "align": "left", "baseline": "alphabetic", "fill": "#141414", "dx": 11.5, "dy": 3},
    "encoding": {"x": {"datum": 0.033, "type": "quantitative", "scale": {"domain": [0,1], "nice": false, "zero": false}}, "y": {"datum": 0.92, "type": "quantitative", "scale": {"domain": [0,1], "nice": false, "zero": false}}, "text": {"field": "t"}}},
   {"data": {"values": [{"t": "= 1.5 %"}]}, "mark": {"type": "text", "font": "Lato", "fontWeight": "bold", "fontSize": 18, "align": "left", "baseline": "alphabetic", "fill": "#141414", "dx": 19},
    "encoding": {"x": {"datum": 0.033, "type": "quantitative", "scale": {"domain": [0,1], "nice": false, "zero": false}}, "y": {"datum": 0.92, "type": "quantitative", "scale": {"domain": [0,1], "nice": false, "zero": false}}, "text": {"field": "t"}}}
  ]
 }
  ]
 }
]
}
